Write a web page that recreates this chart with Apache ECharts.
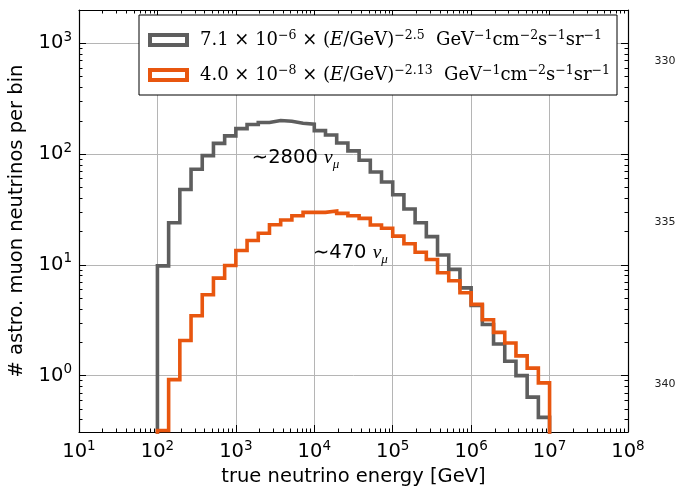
<!DOCTYPE html>
<html>
<head>
<meta charset="utf-8">
<script src="https://cdn.jsdelivr.net/npm/echarts@6/dist/echarts.min.js"></script>
<style>html,body{margin:0;padding:0;background:#fff;}#c{width:678px;height:487px;}</style>
</head>
<body>
<div id="c"></div>
<script>
// ---- data ----
const binsPerDecade = 7;
const firstEdgeExp = 2;            // bins start at 10^2 GeV
const grayCounts = [9.8, 24, 48, 73, 97, 125, 146, 170, 185, 193, 201, 198, 190, 186,
                    163, 149, 126, 107, 88, 69, 56, 43, 32, 24, 18, 12.3, 9.1, 6.2,
                    4.3, 2.9, 1.93, 1.35, 1.0, 0.64, 0.42];
const orangeCounts = [0.32, 0.92, 2.08, 3.47, 5.37, 7.6, 9.86, 13.5, 16.6, 19.3, 23, 25.4, 27.8, 29.8,
                      29.8, 30.6, 29.2, 27.8, 26.3, 22.9, 21.4, 18.2, 15.5, 13.0, 11.2, 8.5, 7.2, 5.6,
                      4.4, 3.2, 2.46, 1.97, 1.51, 1.17, 0.86];
const xMajorExps = [1, 2, 3, 4, 5, 6, 7, 8];
const yMajorExps = [0, 1, 2, 3];
const seriesNames = ['gray', 'orange'];
const legendTexts = {
  gray: '7.1 × 10{sup|−6} × ({it|E}/GeV){sup|−2.5}  GeV{sup|−1}cm{sup|−2}s{sup|−1}sr{sup|−1}',
  orange: '4.0 × 10{sup|−8} × ({it|E}/GeV){sup|−2.13}  GeV{sup|−1}cm{sup|−2}s{sup|−1}sr{sup|−1}'
};
const annotations = [
  {x: 1600, y: 92, num: '∼2800'},
  {x: 9600, y: 12.8, num: '∼470'}
];
const lineNumbers = ['330', '335', '340'];

// ---- derived ----
const nb = grayCounts.length;
const edges = [];
for (let i = 0; i <= nb; i++) edges.push(Math.pow(10, firstEdgeExp + i / binsPerDecade));
const FLOOR = 0.01;
function stepData(counts) {
  const pts = [[edges[0], FLOOR]];
  counts.forEach((v, i) => { pts.push([edges[i], v]); pts.push([edges[i + 1], v]); });
  pts.push([edges[nb], FLOOR]);
  return pts;
}
const xMajor = xMajorExps.map(e => Math.pow(10, e));
const yMajor = yMajorExps.map(e => Math.pow(10, e));
function minors(lo, hi, vmin, vmax) {
  const out = [];
  for (let e = lo; e <= hi; e++) for (let m = 2; m <= 9; m++) {
    const v = m * Math.pow(10, e);
    if (v > vmin && v < vmax) out.push(v);
  }
  return out;
}
const XMIN = 10, XMAX = 1e8, YMIN = 0.31, YMAX = 2000;
const xMinor = minors(1, 7, XMIN, XMAX);
const yMinor = minors(-1, 3, YMIN, YMAX);

const GRAY = '#5e5e5e', ORANGE = '#e8560f';
const SANS = 'DejaVu Sans';
const SERIF = 'DejaVu Serif';
const FS = 19.5;

const tickRich = {
  b: {fontFamily: SANS, fontSize: FS, lineHeight: 26, color: '#000'},
  s: {fontFamily: SANS, fontSize: 13.5, lineHeight: 14, verticalAlign: 'top', color: '#000'}
};
function powFmt(v) { return '{b|10}{s|' + Math.round(Math.log10(v)) + '}'; }

function makeX(pos, major, labels) {
  return {
    type: 'log', logBase: 10, min: XMIN, max: XMAX, position: pos,
    axisLine: {show: major, onZero: false, lineStyle: {color: '#000', width: 1.2}},
    axisTick: {show: true, inside: true, length: major ? 7 : 3.5,
      customValues: major ? xMajor : xMinor, lineStyle: {color: '#000', width: 1}},
    axisLabel: labels ? {show: true, customValues: xMajor, formatter: powFmt, rich: tickRich, margin: 7, color: '#000'} : {show: false},
    splitLine: {show: labels, lineStyle: {color: '#b5b5b5', width: 1}},
    minorTick: {show: false}
  };
}
function makeY(pos, major, labels) {
  return {
    type: 'log', logBase: 10, min: YMIN, max: YMAX, position: pos,
    axisLine: {show: major, onZero: false, lineStyle: {color: '#000', width: 1.2}},
    axisTick: {show: true, inside: true, length: major ? 7 : 3.5,
      customValues: major ? yMajor : yMinor, lineStyle: {color: '#000', width: 1}},
    axisLabel: labels ? {show: true, customValues: yMajor, formatter: powFmt, rich: tickRich, margin: 7, color: '#000'} : {show: false},
    splitLine: {show: labels, lineStyle: {color: '#b5b5b5', width: 1}},
    minorTick: {show: false}
  };
}

const xAxes = [makeX('bottom', true, true), makeX('bottom', false, false), makeX('top', true, false), makeX('top', false, false)];
xAxes[0].name = 'true neutrino energy [GeV]';
xAxes[0].nameLocation = 'middle';
xAxes[0].nameGap = 26;
xAxes[0].nameTextStyle = {fontFamily: SANS, fontSize: FS, color: '#000'};
const yAxes = [makeY('left', true, true), makeY('left', false, false), makeY('right', true, false), makeY('right', false, false)];
yAxes[0].name = '# astro. muon neutrinos per bin';
yAxes[0].nameLocation = 'middle';
yAxes[0].nameGap = 52;
yAxes[0].nameTextStyle = {fontFamily: SANS, fontSize: FS, color: '#000'};

const colors = {gray: GRAY, orange: ORANGE};
const counts = {gray: grayCounts, orange: orangeCounts};

const chart = echarts.init(document.getElementById('c'), null, {renderer: 'canvas'});
chart.setOption({
  animation: false,
  backgroundColor: '#fff',
  grid: {left: 79, right: 50, top: 10, bottom: 55, containLabel: false, outerBoundsMode: 'none'},
  xAxis: xAxes,
  yAxis: yAxes,
  legend: {
    left: 139, top: 15, orient: 'vertical',
    backgroundColor: '#fff', borderColor: '#000', borderWidth: 1, borderRadius: 0,
    padding: [14, 7, 9, 9], itemGap: 13, itemWidth: 37, itemHeight: 10,
    selectedMode: false,
    data: seriesNames.map(n => ({name: n, icon: 'rect',
      itemStyle: {color: '#fff', borderColor: colors[n], borderWidth: 4}})),
    formatter: n => legendTexts[n],
    textStyle: {fontFamily: SERIF, fontSize: 18, lineHeight: 22, color: '#000', padding: [0, 0, 0, 8],
      rich: {
        sup: {fontFamily: SERIF, fontSize: 12.5, lineHeight: 13, verticalAlign: 'top', color: '#000'},
        it: {fontFamily: SERIF, fontSize: 18, fontStyle: 'italic', color: '#000'}
      }}
  },
  series: seriesNames.map(n => ({
    name: n, type: 'line', xAxisIndex: 0, yAxisIndex: 0,
    data: stepData(counts[n]), showSymbol: false, symbol: 'none', clip: true,
    lineStyle: {color: colors[n], width: 3.6, join: 'miter'}, itemStyle: {color: colors[n]},
    z: n === 'orange' ? 3 : 2
  }))
});

// annotations placed through the chart's own scales
const g = [];
annotations.forEach(a => {
  const p = chart.convertToPixel({xAxisIndex: 0, yAxisIndex: 0}, [a.x, a.y]);
  g.push({type: 'text', x: p[0], y: p[1], style: {
    text: '{n|' + a.num + ' }{nu|ν}{mu|μ}',
    verticalAlign: 'middle', align: 'left',
    rich: {
      n: {fontFamily: SANS, fontSize: FS, color: '#000', lineHeight: 26},
      nu: {fontFamily: 'Liberation Serif', fontSize: FS, fontStyle: 'italic', color: '#000', lineHeight: 26},
      mu: {fontFamily: 'Liberation Serif', fontSize: 13, fontStyle: 'italic', color: '#000', lineHeight: 14, verticalAlign: 'bottom'}
    }}, z: 10});
});
const lnY = [61, 222, 384];
lineNumbers.forEach((t, i) => {
  g.push({type: 'text', x: 665, y: lnY[i], style: {text: t, fontFamily: SANS, fontSize: 11, fill: '#222',
    align: 'center', verticalAlign: 'middle'}});
});
chart.setOption({graphic: g});
</script>
</body>
</html>
